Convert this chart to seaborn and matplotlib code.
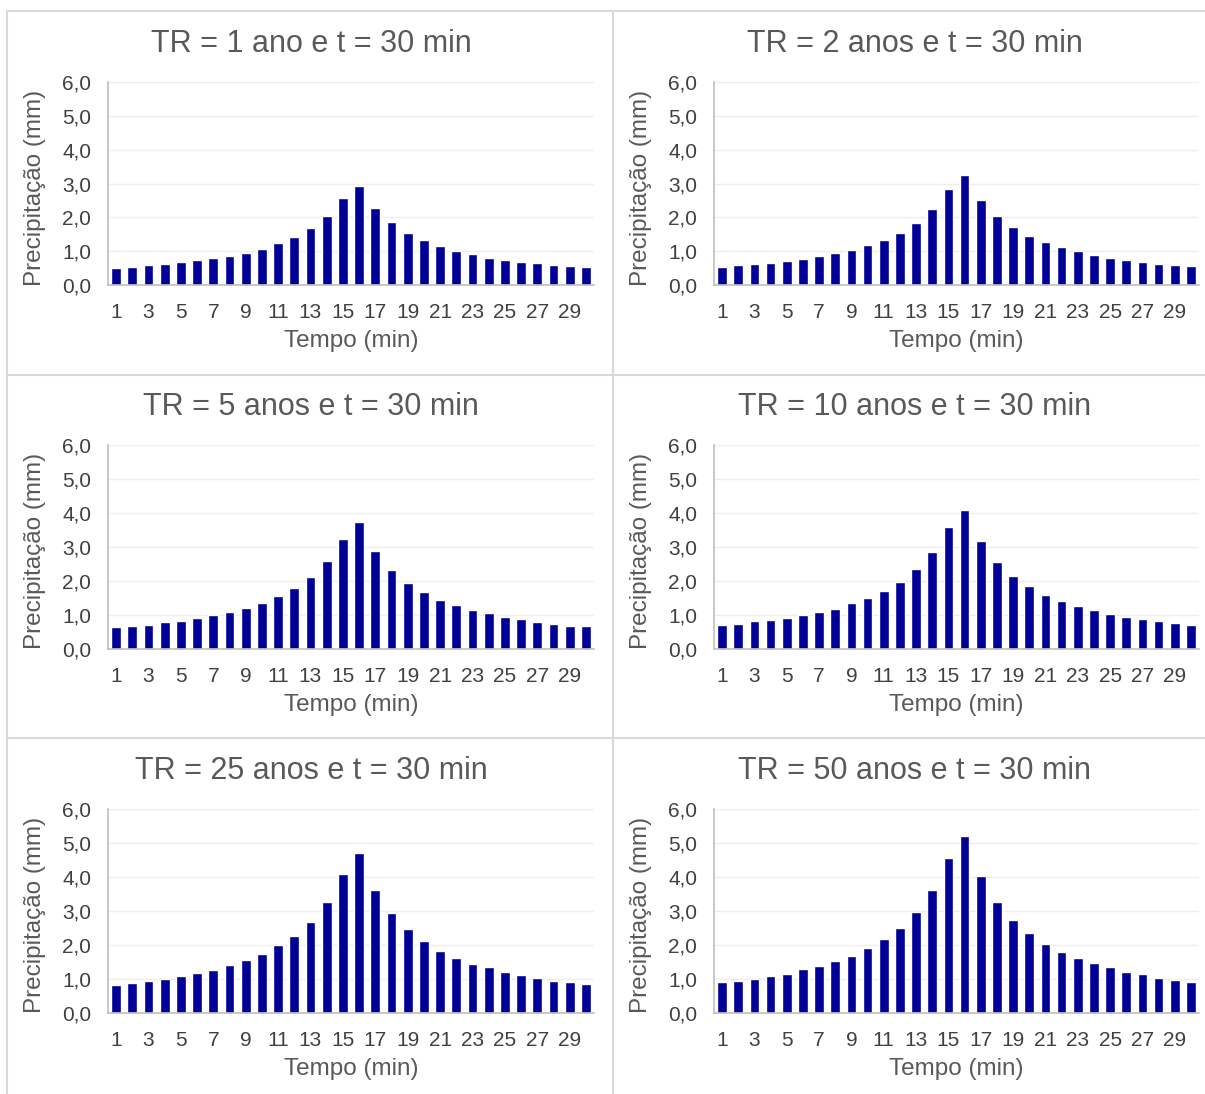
import numpy as np
import pandas as pd
import matplotlib
matplotlib.use("Agg")
import matplotlib.pyplot as plt
from matplotlib.lines import Line2D
import seaborn as sns


# =====================================================
# DATA
# =====================================================

minutes = [1, 2, 3, 4, 5, 6, 7, 8, 9, 10,
           11, 12, 13, 14, 15, 16, 17, 18, 19, 20,
           21, 22, 23, 24, 25, 26, 27, 28, 29, 30]

titles = [
    "TR = 1 ano e t = 30 min",
    "TR = 2 anos e t = 30 min",
    "TR = 5 anos e t = 30 min",
    "TR = 10 anos e t = 30 min",
    "TR = 25 anos e t = 30 min",
    "TR = 50 anos e t = 30 min",
]

tr_1 = [0.49, 0.52, 0.58, 0.63, 0.67, 0.73, 0.79, 0.87, 0.96, 1.07,
        1.23, 1.42, 1.68, 2.05, 2.58, 2.94, 2.29, 1.85, 1.54, 1.32,
        1.15, 1.00, 0.91, 0.81, 0.74, 0.69, 0.65, 0.60, 0.55, 0.52]

tr_2 = [0.53, 0.58, 0.61, 0.66, 0.70, 0.78, 0.86, 0.95, 1.04, 1.17,
        1.33, 1.55, 1.84, 2.26, 2.83, 3.25, 2.52, 2.04, 1.70, 1.46,
        1.27, 1.12, 1.00, 0.90, 0.80, 0.75, 0.68, 0.63, 0.59, 0.56]

tr_5 = [0.64, 0.69, 0.72, 0.78, 0.83, 0.90, 1.01, 1.10, 1.22, 1.36,
        1.55, 1.79, 2.13, 2.58, 3.25, 3.73, 2.88, 2.32, 1.93, 1.68,
        1.45, 1.28, 1.15, 1.05, 0.95, 0.88, 0.80, 0.75, 0.69, 0.67]

tr_10 = [0.72, 0.74, 0.81, 0.86, 0.92, 1.00, 1.09, 1.19, 1.34, 1.50,
         1.71, 1.98, 2.34, 2.84, 3.58, 4.09, 3.18, 2.57, 2.14, 1.84,
         1.59, 1.40, 1.26, 1.14, 1.04, 0.95, 0.88, 0.83, 0.76, 0.72]

tr_25 = [0.82, 0.88, 0.93, 1.00, 1.08, 1.17, 1.27, 1.40, 1.55, 1.75,
         1.99, 2.27, 2.69, 3.26, 4.10, 4.70, 3.63, 2.95, 2.46, 2.11,
         1.83, 1.62, 1.45, 1.34, 1.22, 1.12, 1.02, 0.95, 0.90, 0.85]

tr_50 = [0.90, 0.95, 1.01, 1.09, 1.16, 1.28, 1.39, 1.53, 1.69, 1.91,
         2.18, 2.51, 2.98, 3.62, 4.56, 5.21, 4.02, 3.26, 2.73, 2.34,
         2.03, 1.78, 1.63, 1.46, 1.34, 1.21, 1.14, 1.04, 0.98, 0.92]

series = [tr_1, tr_2, tr_5, tr_10, tr_25, tr_50]

y_ticks = [0, 1, 2, 3, 4, 5, 6]
y_tick_labels = ["0,0", "1,0", "2,0", "3,0", "4,0", "5,0", "6,0"]


# =====================================================
# STYLE
# =====================================================

sns.set_theme(style="white")
plt.rcParams["font.family"] = ["Liberation Sans", "DejaVu Sans"]

W, H = 1205, 1094
BAR_COLOR = "#000096"
TEXT_COLOR = "#595959"
TICK_COLOR = "#404040"
GRID_COLOR = "#eeeeee"
BORDER_COLOR = "#d9d9d9"

col_x = [(108, 594), (714, 1199)]
row_y = [(82, 285), (445, 649), (809, 1013)]
title_x = [311, 915]
ylabel_x = [35, 641]


def px_rect(l, t, r, b):
    return [l / W, 1 - b / H, (r - l) / W, (b - t) / H]


# =====================================================
# FIGURE
# =====================================================

fig = plt.figure(figsize=(W / 100, H / 100), dpi=100)
fig.patch.set_facecolor("white")

# chart area borders
for x in [7, 613]:
    fig.add_artist(Line2D([x / W, x / W], [0, 1 - 11 / H],
                          color=BORDER_COLOR, lw=1.5))
for y in [11, 375, 738]:
    fig.add_artist(Line2D([7 / W, 1], [1 - y / H, 1 - y / H],
                          color=BORDER_COLOR, lw=1.5))

for i, values in enumerate(series):
    row, col = divmod(i, 2)
    l, r = col_x[col]
    t, b = row_y[row]

    ax = fig.add_axes(px_rect(l, t, r, b))

    df = pd.DataFrame({"Tempo": minutes, "Precipitacao": values})

    sns.barplot(
        data=df,
        x="Tempo",
        y="Precipitacao",
        color=BAR_COLOR,
        saturation=1,
        width=0.6,
        ax=ax
    )

    ax.set_xlim(-0.5, len(minutes) - 0.5)
    ax.set_ylim(0, 6)

    ax.set_yticks(y_ticks)
    ax.set_yticklabels(y_tick_labels)
    ax.set_xticks(np.arange(0, len(minutes), 2))
    ax.set_xticklabels([str(m) for m in minutes[::2]])

    ax.tick_params(axis="both", length=0, labelsize=15,
                   labelcolor=TICK_COLOR)
    ax.tick_params(axis="x", pad=13)
    ax.tick_params(axis="y", pad=12)

    ax.yaxis.grid(True, color=GRID_COLOR, lw=1)
    ax.set_axisbelow(True)

    for side in ["top", "right"]:
        ax.spines[side].set_visible(False)
    ax.spines["left"].set_color("#bfbfbf")
    ax.spines["bottom"].set_color("#bfbfbf")
    ax.spines["left"].set_linewidth(1.2)
    ax.spines["bottom"].set_linewidth(1.2)

    ax.set_xlabel("")
    ax.set_ylabel("")

    # titles and axis labels
    fig.text(title_x[col] / W, 1 - (t - 38) / H, titles[i],
             ha="center", va="center", fontsize=22, color=TEXT_COLOR)

    fig.text(ylabel_x[col] / W, 1 - ((t + b) / 2 + 4) / H,
             "Precipitação (mm)", rotation=90,
             ha="center", va="center", fontsize=17.5, color=TEXT_COLOR)

    fig.text(((l + r) / 2) / W, 1 - (b + 56) / H, "Tempo (min)",
             ha="center", va="center", fontsize=17.5, color=TEXT_COLOR)

fig.savefig("out.png", dpi=100, facecolor="white")
plt.close(fig)
